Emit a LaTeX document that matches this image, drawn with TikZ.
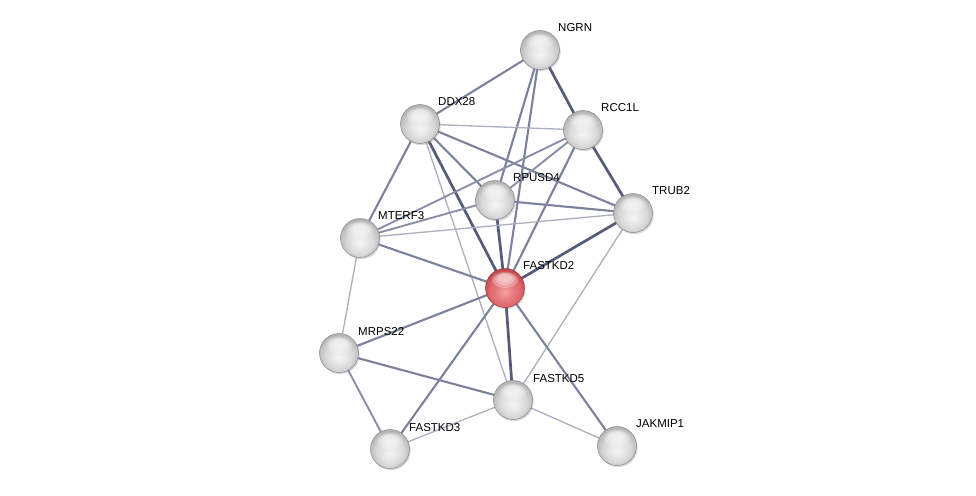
\documentclass[tikz,border=0pt]{standalone}
\usepackage{fontspec}
\setmainfont{Liberation Sans}
\usetikzlibrary{backgrounds,shadows}
\pgfdeclareradialshading{sphgray}{\pgfpoint{0bp}{-6bp}}{%
  color(0bp)=(white!96!black); color(10bp)=(white!90!black); color(18bp)=(white!84!black);
  color(25bp)=(white!74!black); color(31bp)=(white!62!black); color(50bp)=(white!62!black)}
\definecolor{redA}{RGB}{246,160,160}
\definecolor{redB}{RGB}{222,104,108}
\definecolor{redC}{RGB}{195,76,82}
\definecolor{redD}{RGB}{165,55,60}
\pgfdeclareradialshading{sphred}{\pgfpoint{0bp}{-6bp}}{%
  color(0bp)=(redA); color(12bp)=(redB!70!redA); color(20bp)=(redB);
  color(26bp)=(redC); color(31bp)=(redD); color(50bp)=(redD)}
\definecolor{eThick}{RGB}{84,92,120}
\definecolor{eMed}{RGB}{122,130,156}
\definecolor{eThin}{RGB}{170,175,194}
\tikzset{
  sph/.style={circle, minimum size=39pt, inner sep=0pt, draw=white!55!black, line width=0.5pt,
    shading=sphgray,
    drop shadow={opacity=0.3, shadow xshift=1.2pt, shadow yshift=-1.6pt},
    path picture={
      \fill[white, opacity=0.25] ([yshift=8pt]path picture bounding box.center) ellipse (13pt and 8pt);
      \fill[white, opacity=0.3] ([yshift=9pt]path picture bounding box.center) ellipse (10pt and 6pt);
      \fill[white, opacity=0.25] ([yshift=10pt]path picture bounding box.center) ellipse (7pt and 4pt);
    }},
  sphr/.style={sph, shading=sphred, draw=redD},
  lbl/.style={anchor=west, inner sep=0pt, font=\fontsize{11.5}{13}\selectfont, text=black},
  ethick/.style={line width=2.7pt, draw=eThick},
  emed/.style={line width=2.1pt, draw=eMed},
  elight/.style={line width=1.9pt, draw=eMed!70!eThin},
  ethin/.style={line width=1.3pt, draw=eThin},
}
\begin{document}
\begin{tikzpicture}[x=1pt, y=-1pt]
\useasboundingbox (0,0) rectangle (976,495);
% nodes
\node[sph] (ngrn) at (540,50) {};
\node[sph] (ddx) at (420,124) {};
\node[sph] (rcc) at (583,130) {};
\node[sph] (rpu) at (495,200) {};
\node[sph] (trub) at (633,213) {};
\node[sph] (mterf) at (360,238) {};
\node[sphr] (fk2) at (505,288) {};
\node[sph] (mrps) at (339,353) {};
\node[sph] (fk5) at (513,400) {};
\node[sph] (fk3) at (390,449) {};
\node[sph] (jak) at (617,446) {};
% labels
\node[lbl] (lngrn) at (558,28) {NGRN};
\node[lbl] (lddx) at (438,102) {DDX28};
\node[lbl] (lrcc) at (601,108) {RCC1L};
\node[lbl] (lrpu) at (513,178) {RPUSD4};
\node[lbl] (ltrub) at (652,191) {TRUB2};
\node[lbl] (lmterf) at (378,216) {MTERF3};
\node[lbl] (lfk2) at (523,266) {FASTKD2};
\node[lbl] (lmrps) at (358,332) {MRPS22};
\node[lbl] (lfk5) at (533,379) {FASTKD5};
\node[lbl] (lfk3) at (409,428) {FASTKD3};
\node[lbl] (ljak) at (636,424) {JAKMIP1};
% edges
\begin{pgfonlayer}{background}
\fill[white] (0,0) rectangle (976,495);
\draw[emed] (ngrn.center) -- (ddx.center);
\draw[ethick] (ngrn.center) -- (rcc.center);
\draw[emed] (ngrn.center) -- (rpu.center);
\draw[emed] (ngrn.center) -- (fk2.center);
\draw[ethin] (ddx.center) -- (rcc.center);
\draw[emed] (ddx.center) -- (mterf.center);
\draw[emed] (ddx.center) -- (rpu.center);
\draw[emed] (ddx.center) -- (trub.center);
\draw[ethick] (ddx.center) -- (fk2.center);
\draw[ethin] (ddx.center) -- (fk5.center);
\draw[elight] (rcc.center) -- (mterf.center);
\draw[elight] (rcc.center) -- (rpu.center);
\draw[ethick] (rcc.center) -- (trub.center);
\draw[emed] (rcc.center) -- (fk2.center);
\draw[elight] (rpu.center) -- (mterf.center);
\draw[emed] (rpu.center) -- (trub.center);
\draw[ethick] (rpu.center) -- (fk2.center);
\draw[ethin] (trub.center) -- (mterf.center);
\draw[ethick] (trub.center) -- (fk2.center);
\draw[ethin] (trub.center) -- (fk5.center);
\draw[emed] (mterf.center) -- (fk2.center);
\draw[ethin] (mterf.center) -- (mrps.center);
\draw[emed] (fk2.center) -- (mrps.center);
\draw[ethick] (fk2.center) -- (fk5.center);
\draw[emed] (fk2.center) -- (fk3.center);
\draw[emed] (fk2.center) -- (jak.center);
\draw[emed] (mrps.center) -- (fk5.center);
\draw[elight] (mrps.center) -- (fk3.center);
\draw[ethin] (fk3.center) -- (fk5.center);
\draw[ethin] (fk5.center) -- (jak.center);
\end{pgfonlayer}
\end{tikzpicture}
\end{document}
